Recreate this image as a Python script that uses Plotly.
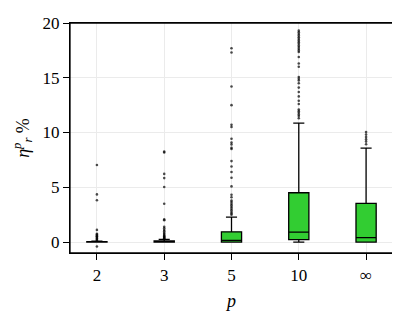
import plotly.graph_objects as go

# categories on the x axis
p_labels = ["2", "3", "5", "10", "∞"]

# box statistics per category (values in %)
q1 = [0.0, 0.0, 0.0, 0.23, 0.0]
median = [0.0, 0.03, 0.15, 0.9, 0.41]
q3 = [0.03, 0.1, 0.93, 4.5, 3.53]
lower_fence = [0.0, 0.0, 0.0, 0.0, 0.0]
upper_fence = [0.08, 0.25, 2.28, 10.86, 8.58]

# outliers
out_2 = [7.04, 4.35, 3.82, 1.11, 0.76, 0.68, 0.6, 0.52, 0.45, 0.38, 0.3, 0.22, 0.15, -0.41]
out_3 = [8.26, 8.18, 6.22, 5.84, 5.02, 3.5, 2.07, 1.99, 1.4, 1.25, 1.1, 0.98, 0.85, 0.75,
         0.65, 0.58, 0.5, 0.45, 0.4, 0.35, 0.3]
out_5 = [17.7, 17.3, 14.2, 12.5, 10.7, 10.5, 9.43, 9.08, 8.9, 8.6, 8.5, 7.39, 6.9, 6.4,
         5.87, 5.08, 4.32, 4.09, 3.8, 3.65, 3.5, 3.35, 3.2, 3.05, 2.9, 2.75, 2.6, 2.5]
out_10 = [19.3, 19.15, 19.0, 18.85, 18.7, 18.55, 18.4, 18.25, 18.1, 17.95, 17.8, 17.65,
          17.5, 17.35, 16.9, 16.3, 16.0, 15.07, 14.9, 14.75, 14.5, 14.1, 13.7, 13.3,
          12.9, 12.6, 12.1, 11.95, 11.8, 11.65, 11.5, 11.3]
out_inf = [10.04, 9.81, 9.58, 9.37, 9.17, 8.93]

outliers = [out_2, out_3, out_5, out_10, out_inf]

font = "Liberation Serif"

fig = go.Figure()
fig.add_trace(go.Box(
    x=p_labels, q1=q1, median=median, q3=q3,
    lowerfence=lower_fence, upperfence=upper_fence,
    boxpoints=False, width=0.3, whiskerwidth=0.55,
    fillcolor="#32cd32", line=dict(color="black", width=1.3),
    showlegend=False,
))

xs, ys = [], []
for label, vals in zip(p_labels, outliers):
    xs += [label] * len(vals)
    ys += vals
fig.add_trace(go.Scatter(
    x=xs, y=ys, mode="markers", showlegend=False,
    marker=dict(size=2.6, color="rgba(0,0,0,0.7)", line=dict(width=0)),
))

axis_common = dict(
    showline=True, mirror=True, linecolor="black", linewidth=1.3,
    ticks="outside", ticklen=6, tickwidth=1.1, tickcolor="black",
    showgrid=True, gridcolor="#ebebeb", gridwidth=1, zeroline=False,
    tickfont=dict(family=font, size=17, color="black"),
    ticklabeloverflow="allow",
)

fig.update_xaxes(
    type="category", categoryorder="array", categoryarray=p_labels,
    range=[-0.4, 4.4],
    title=dict(text="<i>p</i>", font=dict(family=font, size=18, color="black"), standoff=10),
    **axis_common,
)
fig.update_yaxes(
    range=[-1, 20], tickvals=[0, 5, 10, 15, 20],
    title=dict(text="<i>η</i><sup><i>p</i></sup><sub><i>r</i></sub> %",
               font=dict(family=font, size=18, color="black"), standoff=8),
    **axis_common,
)
# frame around the plot area
fig.add_shape(type="rect", xref="paper", yref="paper", x0=0, x1=1, y0=0, y1=1,
              line=dict(color="black", width=1.3), layer="above")

# the page body has an 8px margin, so the figure is shrunk and shifted to fit
fig.update_layout(
    width=392, height=312,
    margin=dict(l=62, r=7, t=6, b=67),
    plot_bgcolor="white", paper_bgcolor="white",
)

fig.write_html("out.html")
